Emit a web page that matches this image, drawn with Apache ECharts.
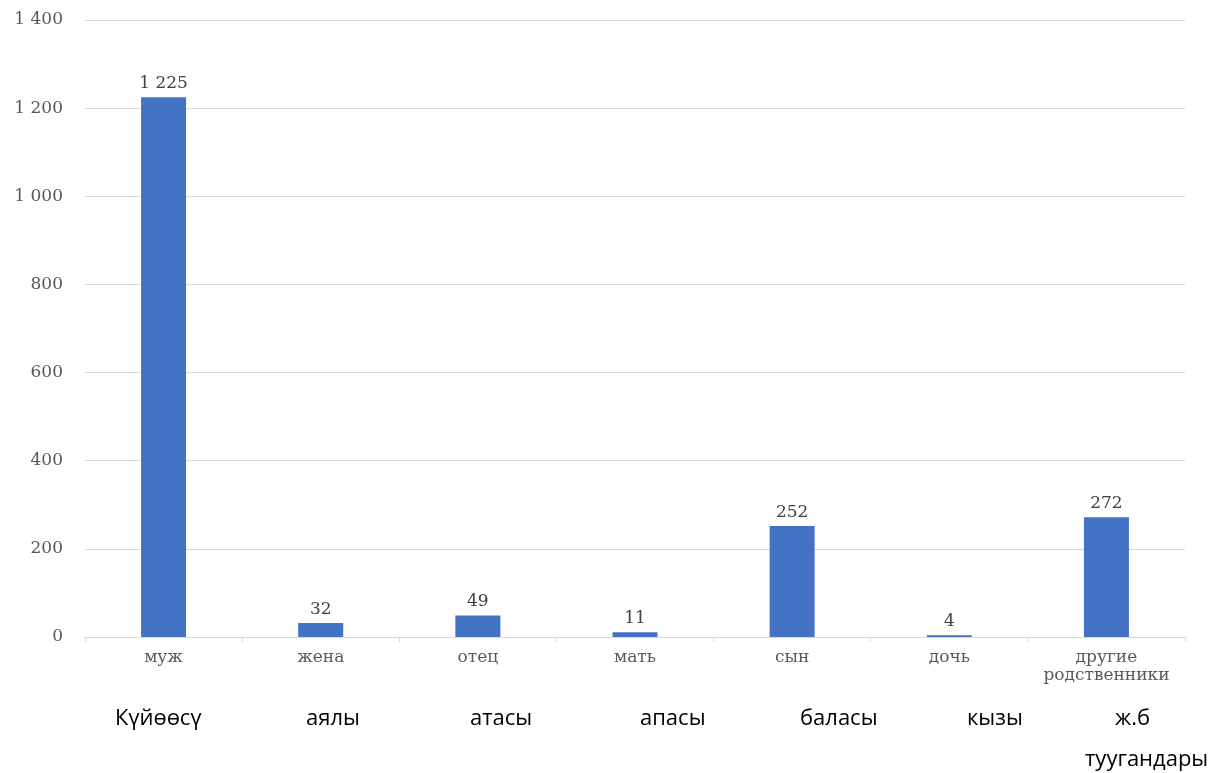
<!DOCTYPE html>
<html>
<head>
<meta charset="utf-8">
<script src="https://cdn.jsdelivr.net/npm/echarts@6/dist/echarts.min.js"></script>
<style>
  html, body { margin: 0; padding: 0; background: #fff; }
  #chart { width: 1232px; height: 773px; }
</style>
</head>
<body>
<div id="chart"></div>
<script>
// Relatives (Russian category names) and counts
const categories = ['муж', 'жена', 'отец', 'мать', 'сын', 'дочь', 'другие\nродственники'];
const counts = [1225, 32, 49, 11, 252, 4, 272];
// Kyrgyz equivalents printed under the chart
const kyrgyzLabels = ['Күйөөсү', 'аялы', 'атасы', 'апасы', 'баласы', 'кызы', 'ж.б', 'туугандары'];
const yTicks = [0, 200, 400, 600, 800, 1000, 1200, 1400];

const fmt = v => String(v).replace(/\B(?=(\d{3})+(?!\d))/g, ' ');
const serif = '"DejaVu Serif", "Liberation Serif", serif';

const chart = echarts.init(document.getElementById('chart'));

// Placement of the Kyrgyz captions (left x, vertical middle y)
const kyPos = [[115, 721], [306, 721], [470, 721], [640, 721], [800, 721], [967, 721], [1115, 721], [1085, 762]];

chart.setOption({
  animation: false,
  grid: { left: 85, right: 47, top: 20, bottom: 136, containLabel: false },
  xAxis: {
    type: 'category',
    data: categories,
    axisLine: { lineStyle: { color: '#d9d9d9', width: 1 } },
    axisTick: { show: true, alignWithLabel: false, length: 5, lineStyle: { color: '#d9d9d9' } },
    axisLabel: {
      interval: 0,
      margin: 12,
      color: '#595959',
      fontFamily: serif,
      fontSize: 17,
      lineHeight: 18
    }
  },
  yAxis: {
    type: 'value',
    min: yTicks[0],
    max: yTicks[yTicks.length - 1],
    interval: yTicks[1] - yTicks[0],
    axisLine: { show: false },
    axisTick: { show: false },
    splitLine: { lineStyle: { color: '#d9d9d9', width: 1 } },
    axisLabel: {
      margin: 22,
      color: '#595959',
      fontFamily: serif,
      fontSize: 17,
      formatter: v => fmt(v)
    }
  },
  series: [{
    type: 'bar',
    data: counts,
    barWidth: 45,
    itemStyle: { color: '#4472C4' },
    label: {
      show: true,
      position: 'top',
      distance: 5,
      color: '#404040',
      fontFamily: serif,
      fontSize: 17,
      formatter: p => fmt(p.value)
    }
  }],
  graphic: kyrgyzLabels.map((t, i) => ({
    type: 'text',
    left: kyPos[i][0],
    top: kyPos[i][1] - 13,
    style: {
      text: t,
      fill: '#000',
      font: '22px "Open Sans", "Noto Sans", sans-serif'
    }
  }))
});
</script>
</body>
</html>
